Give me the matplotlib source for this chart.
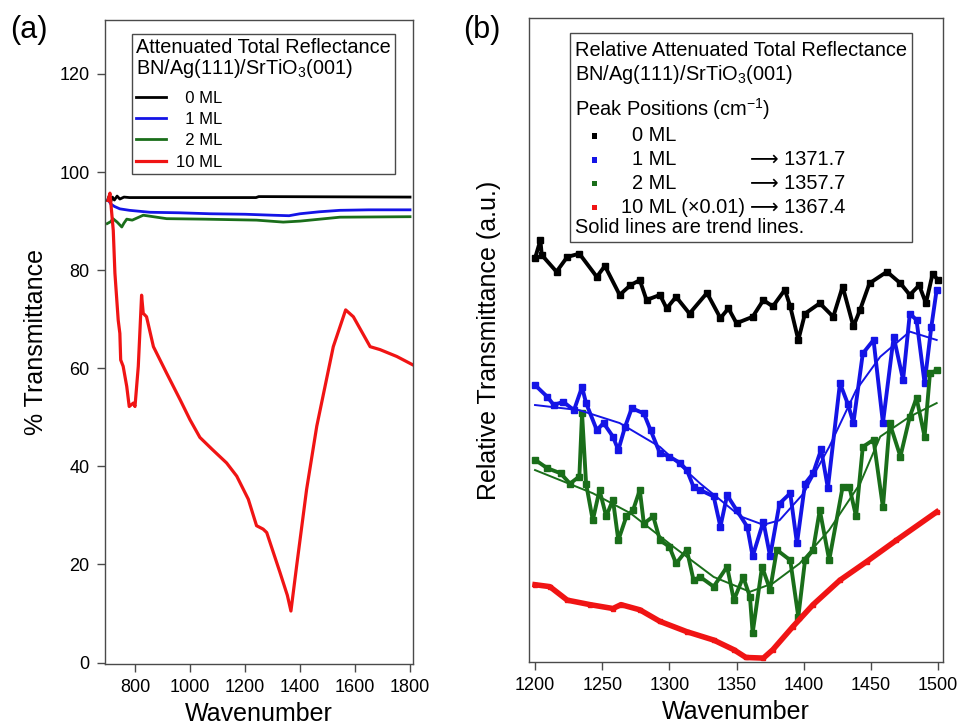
import matplotlib
matplotlib.use("Agg")
import matplotlib.pyplot as plt
from matplotlib.offsetbox import AnchoredOffsetbox, VPacker, HPacker, TextArea, DrawingArea
from matplotlib.patches import Rectangle

plt.rcParams['font.family'] = ['Liberation Sans', 'DejaVu Sans']
plt.rcParams['mathtext.fontset'] = 'custom'
plt.rcParams['mathtext.rm'] = 'Liberation Sans'
plt.rcParams['mathtext.it'] = 'Liberation Sans:italic'

# ---- panel (a): ATR spectra, % transmittance ----
a_labels = ["  0 ML", "  1 ML", "  2 ML", "10 ML"]
a_colors = ["#000000", "#1414e6", "#1a6e1a", "#f01414"]

a0_x = [700, 705, 712, 718, 725, 735, 745, 760, 780, 1240, 1250, 1800]
a0_y = [94.2, 95.0, 94.0, 94.9, 94.3, 95.1, 94.5, 94.9, 94.8, 94.8, 95.0, 94.9]

a1_x = [703, 712, 725, 745, 780, 855, 960, 1073, 1200, 1302, 1360, 1400, 1470, 1545, 1650, 1800]
a1_y = [94.3, 93.5, 93.0, 92.5, 92.2, 91.8, 91.7, 91.5, 91.4, 91.2, 91.1, 91.5, 91.9, 92.2, 92.3, 92.3]

a2_x = [699, 712, 720, 735, 752, 760, 770, 790, 830, 915, 1050, 1242, 1339, 1400, 1545, 1800]
a2_y = [89.5, 89.9, 90.5, 89.8, 88.8, 89.6, 90.4, 90.2, 91.2, 90.5, 90.4, 90.2, 89.8, 90.0, 90.8, 90.9]

a10_x = [702, 709, 721, 727, 739, 745, 748, 757, 770, 779, 794, 800, 812, 824, 830, 842,
         867, 915, 964, 1000, 1036, 1080, 1133, 1170, 1212, 1242, 1266, 1279, 1327, 1354,
         1367, 1388, 1424, 1461, 1491, 1521, 1566, 1594, 1655, 1691, 1752, 1810]
a10_y = [94.2, 95.7, 88.1, 79.4, 69.8, 67.1, 61.7, 60.4, 56.3, 52.2, 52.9, 52.2, 60.4, 74.9, 71.2, 70.5,
         64.4, 59.0, 53.6, 49.5, 45.9, 43.5, 40.7, 38.0, 33.3, 27.9, 27.2, 26.5, 18.4, 13.7,
         10.5, 19.8, 35.3, 48.2, 56.3, 64.4, 71.9, 70.5, 64.4, 63.8, 62.4, 60.7]

a_xticks = [800, 1000, 1200, 1400, 1600, 1800]
a_yticks = [0, 20, 40, 60, 80, 100, 120]

# ---- panel (b): relative ATR, arbitrary units ----
b_labels = ["  0 ML", "  1 ML", "  2 ML", "10 ML (\u00d70.01)"]
b_peaks = ["", "\u27f6 1371.7", "\u27f6 1357.7", "\u27f6 1367.4"]

b0_x = [1200, 1204, 1205, 1216, 1224, 1233, 1246, 1252, 1263, 1271, 1278, 1283, 1293, 1298, 1305, 1315,
        1328, 1338, 1344, 1350, 1362, 1370, 1377, 1386, 1390, 1396, 1401, 1412, 1422, 1429, 1437,
        1442, 1449, 1462, 1472, 1479, 1486, 1491, 1496, 1500]
b0_y = [62.7, 65.5, 63.2, 60.6, 62.9, 63.4, 59.8, 61.5, 57.0, 58.5, 59.3, 56.2, 57.0, 54.9, 56.7, 54.1,
        57.3, 53.4, 54.9, 52.6, 53.6, 56.2, 55.2, 57.8, 55.2, 50.0, 54.1, 55.7, 53.6, 58.3, 52.1,
        54.7, 58.8, 60.6, 58.8, 57.0, 58.5, 55.7, 60.3, 59.3]

b1_x = [1200, 1209, 1214, 1221, 1229, 1235, 1238, 1246, 1251, 1258, 1262, 1267, 1272, 1281, 1286,
        1293, 1300, 1308, 1313, 1318, 1323, 1333, 1338, 1343, 1350, 1358, 1362, 1370, 1375, 1382,
        1390, 1395, 1401, 1407, 1413, 1418, 1427, 1433, 1437, 1444, 1452, 1459, 1467, 1474, 1479,
        1484, 1490, 1495, 1499]
b1_y = [43.0, 41.2, 39.9, 40.4, 39.1, 42.7, 40.2, 36.0, 37.1, 35.0, 32.9, 36.5, 39.4, 38.6, 36.0,
        32.4, 31.9, 30.9, 29.8, 27.2, 26.7, 25.7, 21.0, 25.9, 23.6, 21.0, 16.4, 21.8, 16.4, 24.6,
        26.2, 18.4, 27.7, 29.3, 33.0, 27.0, 43.3, 40.0, 37.1, 47.9, 50.0, 37.1, 50.5, 43.8, 54.1,
        53.1, 43.3, 52.0, 57.8]
b1_trend_x = [1200, 1233, 1263, 1293, 1323, 1353, 1370, 1382, 1400, 1419, 1439, 1457, 1479, 1499]
b1_trend_y = [39.9, 39.1, 37.1, 33.4, 27.7, 22.6, 21.3, 22.0, 26.2, 33.4, 42.2, 47.4, 51.3, 50.0]

b2_x = [1200, 1209, 1219, 1226, 1233, 1235, 1238, 1243, 1248, 1253, 1258, 1262, 1268, 1273, 1278,
        1281, 1288, 1293, 1300, 1305, 1313, 1318, 1323, 1333, 1343, 1348, 1355, 1360, 1362, 1369,
        1375, 1380, 1390, 1396, 1401, 1407, 1412, 1419, 1429, 1434, 1439, 1444, 1452, 1459, 1464,
        1472, 1479, 1484, 1490, 1494, 1499]
b2_y = [31.4, 30.1, 29.3, 27.7, 28.8, 38.6, 27.7, 22.0, 26.7, 22.6, 25.2, 18.9, 22.6, 23.6, 26.7,
        21.5, 22.6, 18.9, 17.9, 15.3, 17.4, 12.7, 13.2, 11.7, 14.8, 9.6, 13.2, 10.1, 4.5, 14.8,
        11.2, 17.4, 15.8, 7.0, 15.8, 17.4, 23.6, 15.8, 27.2, 27.2, 22.6, 33.4, 34.5, 24.0, 37.1,
        31.9, 38.1, 41.0, 35.0, 44.8, 45.3]
b2_trend_x = [1200, 1243, 1271, 1303, 1333, 1360, 1377, 1397, 1419, 1442, 1457, 1479, 1499]
b2_trend_y = [29.8, 26.2, 23.1, 17.9, 13.2, 10.9, 12.2, 15.3, 20.5, 27.7, 35.0, 38.1, 40.2]

b10_x = [1200, 1211, 1224, 1241, 1258, 1264, 1278, 1293, 1313, 1333, 1348, 1357, 1370, 1377,
         1392, 1407, 1427, 1447, 1469, 1499]
b10_y = [12.0, 11.7, 9.6, 8.9, 8.3, 8.9, 8.1, 6.3, 4.7, 3.4, 1.9, 0.7, 0.6, 1.9,
         5.5, 8.9, 12.7, 15.6, 18.9, 23.3]

b_xticks = [1200, 1250, 1300, 1350, 1400, 1450, 1500]

spine_col = "#4a4a4a"


def style_axes(ax):
    for s in ax.spines.values():
        s.set_color(spine_col)
        s.set_linewidth(1.0)
    ax.tick_params(axis="both", direction="out", length=6, width=1, color=spine_col,
                   labelsize=13, pad=5, top=False, right=False)


fig = plt.figure(figsize=(9.59, 7.28), dpi=100)
ax1 = fig.add_axes([0.1095, 0.0879, 0.3212, 0.8846])
ax2 = fig.add_axes([0.5516, 0.0907, 0.4317, 0.8846])

# panel (a)
for xs, ys, c, lab, lw in zip([a0_x, a1_x, a2_x, a10_x], [a0_y, a1_y, a2_y, a10_y],
                              a_colors, a_labels, [2.0, 2.0, 2.0, 2.3]):
    ax1.plot(xs, ys, color=c, lw=lw, label=lab)
ax1.set_xlim(691, 1811)
ax1.set_ylim(-0.3, 131)
ax1.set_xticks(a_xticks)
ax1.set_yticks(a_yticks)
style_axes(ax1)
ax1.set_xlabel("Wavenumber", fontsize=18, labelpad=4)
ax1.set_ylabel("% Transmittance", fontsize=18, labelpad=8)
leg = ax1.legend(title="Attenuated Total Reflectance\nBN/Ag(111)/SrTiO$_3$(001)",
                 alignment="left", loc="upper left", bbox_to_anchor=(0.086, 0.978),
                 borderaxespad=0, fontsize=12, title_fontsize=14.3, handlelength=1.8,
                 handletextpad=0.64, labelspacing=0.38, borderpad=0.25, fancybox=False,
                 edgecolor=spine_col, framealpha=1)
leg.get_frame().set_linewidth(1.0)
leg.get_title().set_linespacing(0.95)
leg._legend_box.sep = 8

# panel (b)
for xs, ys, c in zip([b0_x, b1_x, b2_x], [b0_y, b1_y, b2_y], a_colors[:3]):
    ax2.plot(xs, ys, color=c, lw=2.8, marker="s", ms=5, mec=c, mfc=c)
ax2.plot(b10_x, b10_y, color=a_colors[3], lw=4, marker="s", ms=3.5, mec=a_colors[3])
ax2.plot(b1_trend_x, b1_trend_y, color=a_colors[1], lw=1.4, zorder=4)
ax2.plot(b2_trend_x, b2_trend_y, color=a_colors[2], lw=1.4, zorder=4)
ax2.set_xlim(1195.5, 1503.7)
ax2.set_ylim(0, 100)
ax2.set_xticks(b_xticks)
ax2.set_yticks([])
style_axes(ax2)
ax2.set_xlabel("Wavenumber", fontsize=18, labelpad=4)
ax2.set_ylabel("Relative Transmittance (a.u.)", fontsize=18, labelpad=20)

# custom key box for panel (b)
fs = 14.4
tp = dict(size=fs)
title_box = TextArea("Relative Attenuated Total Reflectance\nBN/Ag(111)/SrTiO$_3$(001)",
                     textprops=tp)
rows = []
for c, lab in zip(a_colors, b_labels):
    da = DrawingArea(33, 8, 0, 0)
    da.add_artist(Rectangle((12, 2), 4, 4, facecolor=c, edgecolor="none"))
    rows.append(HPacker(children=[da, TextArea(lab, textprops=tp)], sep=0, align="center"))
rows_col = VPacker(children=rows, sep=3.5, align="left")
vals_col = VPacker(children=[TextArea(v if v else " ", textprops=tp) for v in b_peaks],
                   sep=3.5, align="left")
key_block = HPacker(children=[rows_col, vals_col], sep=3.5, align="top")
peak_block = VPacker(children=[TextArea("Peak Positions (cm$^{-1}$)", textprops=tp), key_block],
                     sep=3.5, align="left")
inner = VPacker(children=[peak_block, TextArea("Solid lines are trend lines.", textprops=tp)],
                sep=1.0, align="left")
outer = VPacker(children=[DrawingArea(1, 2), VPacker(children=[title_box, inner], sep=7,
                                                     align="left")], sep=0, align="left")
box = AnchoredOffsetbox(loc="upper left", child=outer, pad=0.25, borderpad=0, frameon=True,
                        bbox_to_anchor=(0.099, 0.977), bbox_transform=ax2.transAxes,
                        prop=dict(size=fs))
box.patch.set_edgecolor(spine_col)
box.patch.set_linewidth(1.0)
ax2.add_artist(box)

fig.text(0.0104, 0.959, "(a)", fontsize=22, va="center", ha="left")
fig.text(0.483, 0.959, "(b)", fontsize=22, va="center", ha="left")

fig.savefig("out.png", dpi=100)
